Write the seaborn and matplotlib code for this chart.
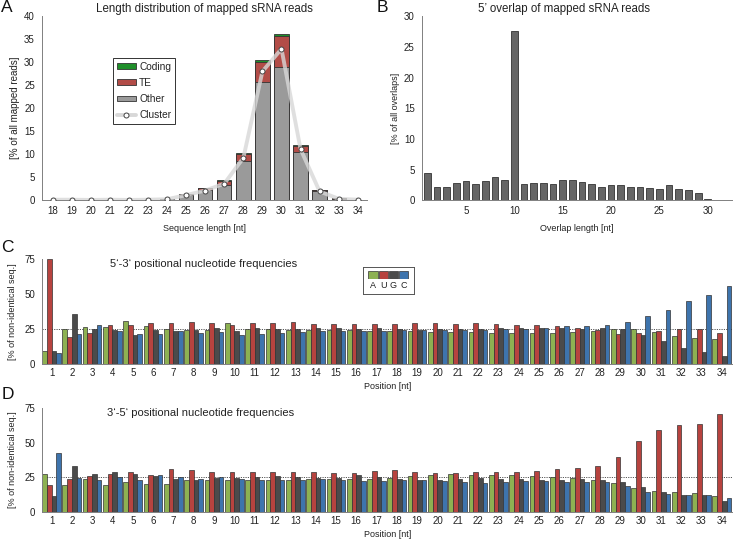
"""
Small RNA read statistics: length distribution, 5' overlaps and
positional nucleotide frequencies (5'-3' and 3'-5').
"""

import numpy as np
import pandas as pd
import matplotlib
matplotlib.use("Agg")
import matplotlib.pyplot as plt
from matplotlib.patches import Patch
from matplotlib.lines import Line2D
from matplotlib.ticker import FixedLocator
import seaborn as sns

# ---------------- data ----------------
# A: length distribution (% of all mapped reads)
lengths = [str(n) for n in range(18, 35)]
other = [0.1, 0.1, 0.05, 0.1, 0.05, 0.1, 0.2, 1.2, 2.2, 3.4, 8.5, 25.6, 28.9, 10.4, 1.9, 0.3, 0.1]
te = [0.0, 0.0, 0.0, 0.0, 0.0, 0.0, 0.1, 0.2, 0.5, 0.8, 1.6, 4.4, 6.7, 1.4, 0.3, 0.1, 0.0]
coding = [0.0, 0.0, 0.0, 0.0, 0.0, 0.0, 0.0, 0.0, 0.0, 0.1, 0.1, 0.5, 0.5, 0.3, 0.1, 0.0, 0.0]
cluster = [0.1, 0.1, 0.05, 0.1, 0.05, 0.1, 0.2, 1.1, 2.1, 3.6, 9.2, 28.0, 32.9, 11.1, 1.9, 0.3, 0.1]

# B: 5' overlap (% of all overlaps)
overlap_len = list(range(1, 33))
overlap_pct = [4.45, 2.2, 2.2, 2.75, 3.2, 2.6, 3.2, 3.7, 3.37, 27.6, 2.65, 2.83, 2.88, 2.6, 3.37, 3.37,
               3.0, 2.65, 2.2, 2.4, 2.5, 2.2, 2.2, 2.0, 1.9, 2.4, 1.8, 1.6, 1.25, 0.2, 0.1, 0.1]

# C / D: positional nucleotide frequencies (% of non-identical seq.)
positions = [str(n) for n in range(1, 35)]
nucleotides = ["A", "U", "G", "C"]

c53_A = [9.5, 25, 26.2, 26.2, 30.5, 27, 25, 24.3, 24.3, 29.4, 25, 25, 24.3, 24.3, 24.3, 24.3, 23.4,
         23.4, 23.4, 22.7, 22.7, 22.7, 22, 22, 22, 22, 22.7, 23.4, 25, 25, 23, 20, 18.6, 17.9]
c53_U = [75, 19.3, 22.4, 28.2, 27.7, 29.1, 29.6, 30, 29.4, 27.7, 29.6, 29.4, 30, 28.9, 28.6, 28.6, 28.9,
         28.6, 29.4, 29.4, 28.9, 29.4, 28.9, 28.2, 27.9, 27.2, 25.8, 24.3, 21.5, 22, 23.4, 25, 25, 22.4]
c53_G = [9, 35.5, 25, 24.3, 21, 24.3, 23.6, 24.3, 25.5, 23.9, 25.5, 25, 25, 25.5, 25.5, 25, 25.8,
         25, 24.3, 25, 25, 25, 25.8, 25.8, 25.8, 25.5, 25, 25.8, 25, 20.8, 16.2, 11.5, 8.8, 6]
c53_C = [7.7, 21.5, 27.7, 23.4, 21.7, 21.2, 23.4, 22.4, 23, 20.8, 21.5, 22.4, 23, 23.4, 23.4, 23.4, 23.6,
         24.3, 24.3, 24.3, 24.3, 24.1, 25, 25, 25.8, 27.2, 27.4, 27.9, 30.3, 34.4, 38.9, 44.9, 49.4, 55.8]

c35_A = [27, 19.2, 23.6, 19.7, 21.4, 20.4, 20.4, 22.6, 22.8, 23.3, 22.8, 22.8, 22.8, 24, 24, 23.6, 23.6,
         24.3, 25.5, 26.9, 27.2, 26.4, 26.4, 26.4, 25.5, 24.8, 24.3, 22.8, 20.7, 17.1, 14.9, 14.2, 13.5, 11.3]
c35_U = [19.2, 23.6, 26, 27.2, 28.8, 26.4, 30.8, 30.3, 28.4, 28.6, 28.8, 28.8, 28.8, 28.6, 27.9, 27.9, 29.3,
         30, 28.6, 28.1, 28.1, 28.6, 28.6, 28.6, 29.3, 30.8, 31.3, 32.9, 39.4, 51, 58.9, 62.7, 63.7, 70.4]
c35_G = [11.3, 33, 27.2, 28.4, 27.2, 26, 23.6, 23.3, 24.3, 24.3, 25.2, 26, 25.2, 24.3, 24.3, 26.9, 25,
         23.6, 22.8, 22.8, 23.6, 24.3, 23.6, 23.6, 23.3, 23.1, 23.6, 23.3, 21.4, 17.8, 14.2, 12, 12, 7.9]
c35_C = [42.8, 24.3, 23.3, 25.2, 22.8, 26.7, 25, 24, 24.8, 24, 23.3, 22.8, 22.8, 23.6, 22.8, 22.1, 22.1,
         22.8, 22.8, 22.1, 21.4, 20.9, 21.4, 21.9, 21.9, 21.4, 21.4, 21.4, 18.5, 14.2, 12.7, 12, 12, 10.3]

# ---------------- style ----------------
sns.set_theme(style="white")
plt.rcParams["font.family"] = ["Liberation Sans", "DejaVu Sans"]
plt.rcParams["axes.linewidth"] = 0.7

COL_OTHER, COL_TE, COL_CODING = "#9a9a9a", "#b24c47", "#1f8f2a"
NUC_COLORS = ["#8db152", "#b7433f", "#4b4b4b", "#3e74ad"]
EDGE = "#333333"
TXT = "#222222"


def style_axes(ax):
    for side in ("top", "right"):
        ax.spines[side].set_visible(False)
    for side in ("left", "bottom"):
        ax.spines[side].set_color("#808080")
    ax.tick_params(axis="y", length=3, width=0.6, color="#808080", labelsize=7, pad=2, labelcolor=TXT)
    ax.tick_params(axis="x", which="major", length=0, labelsize=7, pad=4, labelcolor=TXT)
    ax.tick_params(axis="x", which="minor", length=3, width=0.6, color="#808080")


fig = plt.figure(figsize=(7.33, 5.41), dpi=100)
ax_a = fig.add_axes([0.057, 0.630, 0.444, 0.340])
ax_b = fig.add_axes([0.5753, 0.630, 0.4233, 0.340])
ax_c = fig.add_axes([0.057, 0.327, 0.943, 0.194])
ax_d = fig.add_axes([0.057, 0.054, 0.943, 0.192])

# ---------------- A ----------------
df_a = pd.DataFrame({"length": lengths, "other": other, "te": te, "coding": coding})
df_a["te_top"] = df_a["other"] + df_a["te"]
df_a["total"] = df_a["te_top"] + df_a["coding"]
bar_kw = dict(width=0.75, edgecolor=EDGE, linewidth=0.6, ax=ax_a, order=lengths, saturation=1)
sns.barplot(data=df_a, x="length", y="total", color=COL_CODING, **bar_kw)
sns.barplot(data=df_a, x="length", y="te_top", color=COL_TE, **bar_kw)
sns.barplot(data=df_a, x="length", y="other", color=COL_OTHER, **bar_kw)
ax_a.plot(np.arange(len(lengths)), cluster, color="#d8d8d8", lw=2.8, alpha=0.8, zorder=4)
ax_a.plot(np.arange(len(lengths)), cluster, ls="none", marker="o", ms=3.6,
          mfc="white", mec="#444444", mew=0.7, zorder=5)
ax_a.set_ylim(0, 40)
ax_a.set_xlim(-0.58, 16.5)
ax_a.set_yticks(range(0, 41, 5))
ax_a.xaxis.set_minor_locator(FixedLocator(np.arange(len(lengths) + 1) - 0.5))
style_axes(ax_a)
ax_a.set_xlabel("Sequence length [nt]", fontsize=6.5, color=TXT, labelpad=6)
ax_a.set_ylabel("[% of all mapped reads]", fontsize=7, color=TXT, labelpad=3)
ax_a.set_title("Length distribution of mapped sRNA reads", fontsize=8.3, color=TXT, pad=3)
handles_a = [
    Patch(facecolor=COL_CODING, edgecolor=EDGE, linewidth=0.6),
    Patch(facecolor=COL_TE, edgecolor=EDGE, linewidth=0.6),
    Patch(facecolor=COL_OTHER, edgecolor=EDGE, linewidth=0.6),
    Line2D([0], [0], color="#d8d8d8", lw=2.8, marker="o", ms=3.6, mfc="white", mec="#444444", mew=0.7),
]
leg = ax_a.legend(handles_a, ["Coding", "TE", "Other", "Cluster"], loc="upper left",
                  bbox_to_anchor=(0.218, 0.775), fontsize=7.3, frameon=True, fancybox=False,
                  edgecolor="#333333", framealpha=1, handlelength=1.9, handleheight=0.45,
                  handletextpad=0.3, labelspacing=0.6, borderpad=0.4, borderaxespad=0)
leg.get_frame().set_linewidth(0.7)

# ---------------- B ----------------
df_b = pd.DataFrame({"overlap": overlap_len, "pct": overlap_pct})
sns.barplot(data=df_b, x="overlap", y="pct", native_scale=True, color="#666666",
            width=0.7, edgecolor=EDGE, linewidth=0.6, saturation=1, ax=ax_b)
ax_b.set_xlim(0.42, 32.5)
ax_b.set_ylim(0, 30)
ax_b.set_xticks(range(5, 31, 5))
ax_b.set_yticks(range(0, 31, 5))
style_axes(ax_b)
ax_b.set_xlabel("Overlap length [nt]", fontsize=6.5, color=TXT, labelpad=6)
ax_b.set_ylabel("[% of all overlaps]", fontsize=6.5, color=TXT, labelpad=3)
ax_b.set_title("5\u2019 overlap of mapped sRNA reads", fontsize=8.3, color=TXT, pad=3, x=0.459)

# ---------------- C / D ----------------


def nucleotide_panel(ax, a, u, g, c, title, title_x):
    df = pd.DataFrame({"position": positions, "A": a, "U": u, "G": g, "C": c})
    df = df.melt(id_vars="position", var_name="nuc", value_name="freq")
    sns.barplot(data=df, x="position", y="freq", hue="nuc", order=positions, hue_order=nucleotides,
                palette=NUC_COLORS, width=0.92, gap=0, edgecolor=EDGE, linewidth=0.5,
                saturation=1, legend=False, ax=ax)
    ax.axhline(25, color="#555555", lw=0.7, ls=(0, (1.2, 1.2)), zorder=0.5)
    ax.set_xlim(-0.48, 33.55)
    ax.set_ylim(0, 75)
    ax.set_yticks([0, 25, 50, 75])
    ax.xaxis.set_minor_locator(FixedLocator(np.arange(len(positions) + 1) - 0.5))
    style_axes(ax)
    ax.tick_params(axis="x", which="major", pad=3)
    ax.set_xlabel("Position [nt]", fontsize=6.5, color=TXT, labelpad=3)
    ax.set_ylabel("[% of non-identical seq.]", fontsize=6.5, color=TXT, labelpad=5)
    ax.text(title_x, 0.95, title, transform=ax.transAxes, ha="center", va="center",
            fontsize=8, color=TXT)


nucleotide_panel(ax_c, c53_A, c53_U, c53_G, c53_C, "5\u2018-3\u2018 positional nucleotide frequencies", 0.234)
nucleotide_panel(ax_d, c35_A, c35_U, c35_G, c35_C, "3\u2018-5\u2018 positional nucleotide frequencies", 0.229)

# nucleotide legend (swatches with letters below), own axes so no categorical clash
frame = fig.add_axes([0.057 + 0.943 * 0.464, 0.327 + 0.194 * 0.664, 0.943 * 0.0742, 0.194 * 0.263])
frame.set_xticks([])
frame.set_yticks([])
for sp in frame.spines.values():
    sp.set_color("#555555")
    sp.set_linewidth(0.7)
frame.set_facecolor("white")
swatch = fig.add_axes([0.057 + 0.943 * 0.472, 0.327 + 0.194 * 0.81, 0.943 * 0.0588, 0.194 * 0.076])
swatch.patch.set_alpha(0)
swatch_pos = np.arange(len(nucleotides))
swatch.bar(swatch_pos, np.ones(len(nucleotides)), color=NUC_COLORS, width=0.92,
           edgecolor=EDGE, linewidth=0.5)
swatch.set_xlim(-0.5, 3.5)
swatch.set_ylim(0, 1)
swatch.set_yticks([])
swatch.set_xticks(swatch_pos, nucleotides)
swatch.tick_params(axis="x", length=0, labelsize=6.5, pad=1.5, labelcolor=TXT)
for sp in swatch.spines.values():
    sp.set_visible(False)

# panel letters
for letter, x, y in [("A", 0.002, 1.0), ("B", 0.514, 1.0), ("C", 0.002, 0.557), ("D", 0.002, 0.285)]:
    fig.text(x, y, letter, fontsize=12.5, ha="left", va="top", color="#111111")

fig.savefig("out.png", dpi=100)
print("saved out.png")
